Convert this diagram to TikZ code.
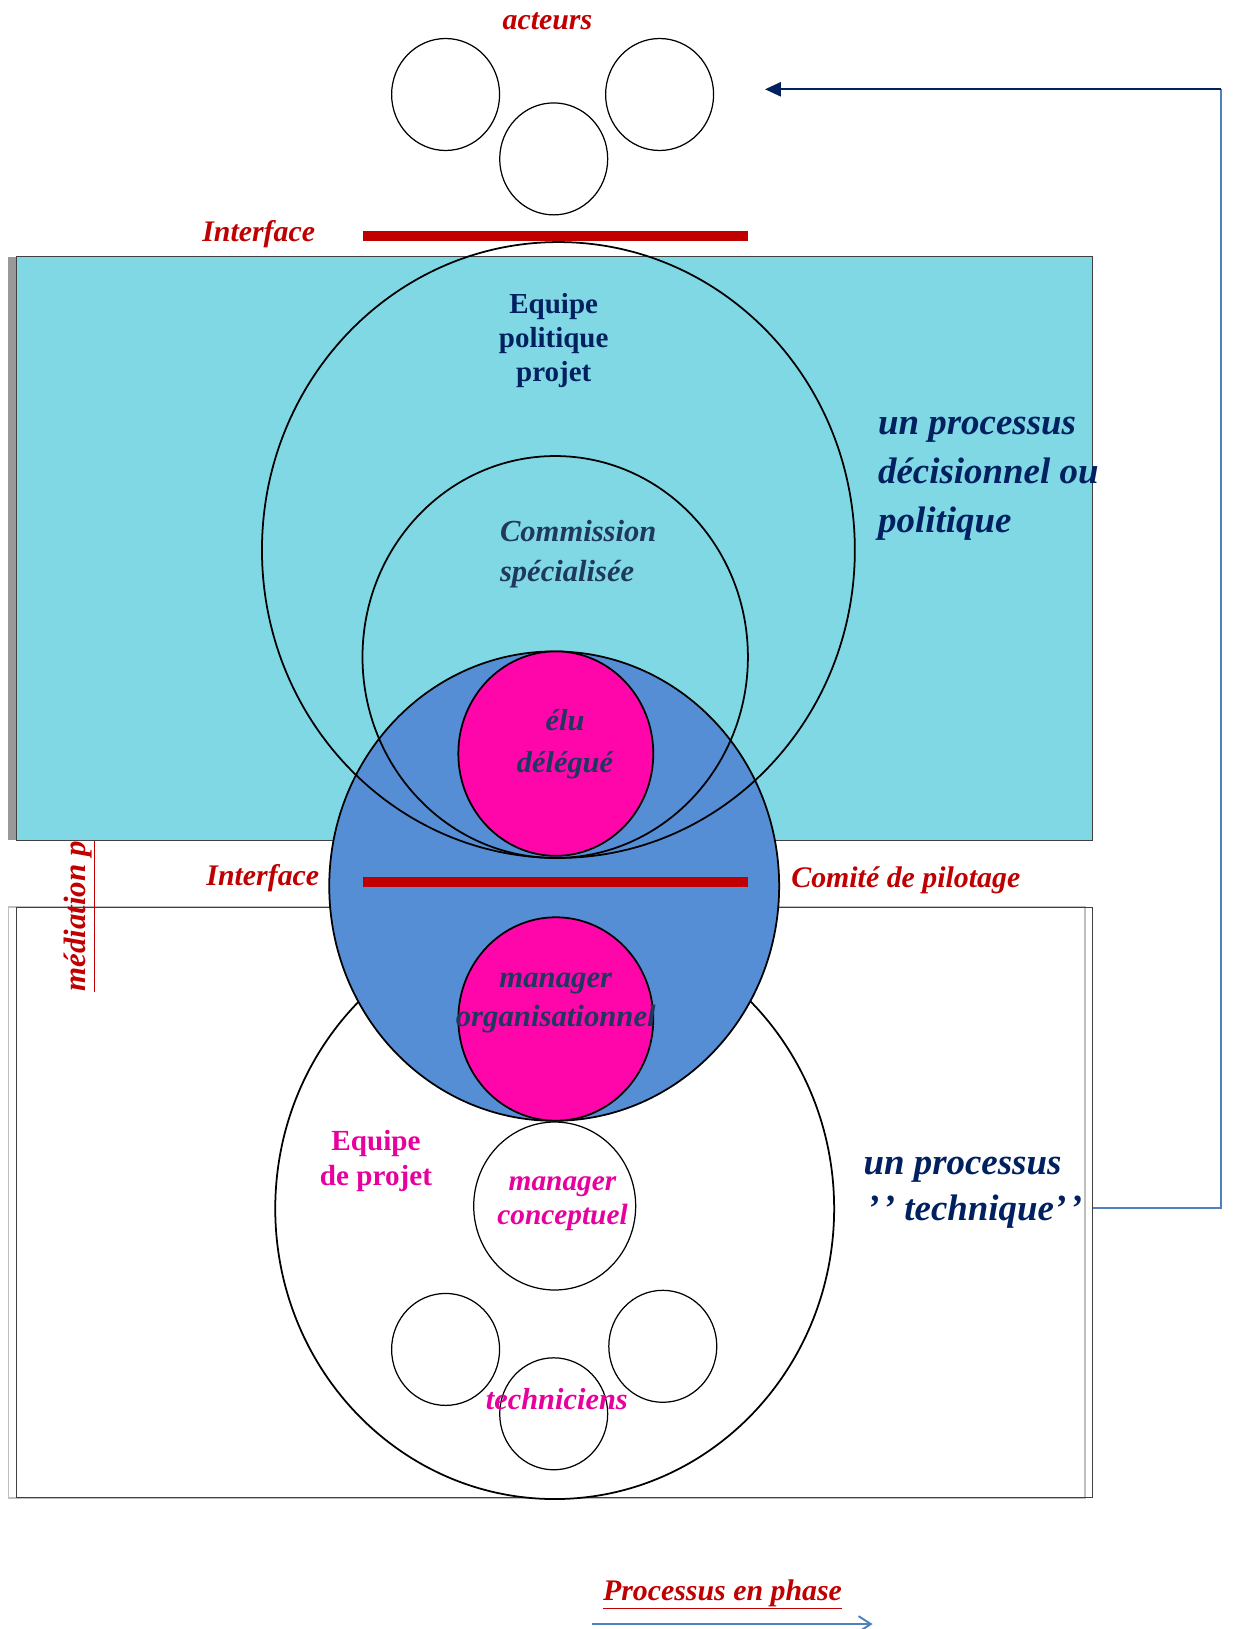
\documentclass[tikz,border=0pt]{standalone}
\usepackage{fontspec}
\setmainfont{Liberation Serif}
\usetikzlibrary{arrows.meta, shapes.geometric}

\definecolor{cyanzone}{RGB}{128,216,228}
\definecolor{bluedisc}{RGB}{85,142,213}
\definecolor{pinkdisc}{RGB}{255,6,170}
\definecolor{darkred}{RGB}{192,0,0}
\definecolor{navytext}{RGB}{0,32,96}
\definecolor{slatetext}{RGB}{31,56,94}
\definecolor{pinktext}{RGB}{232,0,158}
\definecolor{linkblue}{RGB}{79,129,189}

\tikzset{
  ring/.style={ellipse, draw=black, line width=1pt, inner sep=0pt},
  smallring/.style={ellipse, draw=black, line width=0.7pt, inner sep=0pt, minimum width=2.16cm, minimum height=2.24cm},
  zone/.style={draw=black!75, line width=0.6pt, inner sep=0pt, minimum width=21.52cm},
  redbar/.style={draw=darkred, line width=5.9pt},
  redlabel/.style={text=darkred, inner sep=0pt, font=\fontsize{17}{20}\selectfont\bfseries\itshape},
  biglabel/.style={text=navytext, inner sep=0pt, align=left, anchor=west}
}

\begin{document}
\begin{tikzpicture}[x=0.02cm, y=-0.02cm]
\useasboundingbox (0,0) rectangle (1232,1629);
%\draw[help lines] (0,0) grid[step=100] (1232,1629);
\begin{scope}
    % lower zone
    \draw[black!25, line width=0.8pt] (8.3,906.9) rectangle (1085,1498);
    \node[zone, minimum height=11.82cm] (techzone) at (554.7,1202.5) {};
    \node[redlabel, rotate=90, anchor=base west, font=\fontsize{17.6}{20}\selectfont\bfseries\itshape] (mediation) at (85,992) {\underline{médiation p}};

    % upper zone
    \fill[black!40] (8.3,256.6) rectangle (16.6,840.4);
    \node[zone, fill=cyanzone, minimum height=11.68cm] (polzone) at (554.7,548.5) {};

    % actors
    \node[smallring] (actL) at (445.6,94.5) {};
    \node[smallring] (actR) at (659.6,94.5) {};
    \node[smallring] (actB) at (553.7,158.9) {};
    \node[redlabel] (acteurs) at (547.4,21) {acteurs};

    % circles
    \node[ring, fill=white, minimum width=11.18cm, minimum height=11.62cm] (projet) at (554.7,1208.6) {};
    \node[ring, fill=bluedisc, minimum width=9.0cm, minimum height=9.39cm] (copil) at (554.2,886.1) {};
    \node[ring, fill=pinkdisc, minimum width=3.9cm, minimum height=4.09cm] (elu) at (555.8,753.6) {};
    \node[ring, fill=pinkdisc, minimum width=3.9cm, minimum height=4.07cm] (manorg) at (555.8,1019) {};
    \node[ring, minimum width=11.86cm, minimum height=12.32cm] (politique) at (558.4,550) {};
    \node[ring, minimum width=7.71cm, minimum height=8.04cm] (commission) at (555.2,657) {};
    \node[ring, fill=white, line width=0.7pt, minimum width=3.24cm, minimum height=3.36cm] (mancon) at (554.7,1206) {};
    \node[smallring] (techL) at (445.6,1349.4) {};
    \node[smallring] (techR) at (662.8,1346.3) {};
    \node[smallring] (techB) at (553.7,1413.8) {};

    % interfaces
    \draw[redbar] (362.5,235.8) -- (748,235.8);
    \draw[redbar] (362.5,882) -- (748,882);
    \node[redlabel] (itop) at (258.7,234.5) {Interface};
    \node[redlabel] (imid) at (262.8,878) {Interface};
    \node[redlabel] (comite) at (905.8,880) {Comité de pilotage};

    % labels
    \node[text=navytext, align=center, font=\fontsize{16.5}{19.5}\selectfont\bfseries] (eqpol) at (553.7,340.6) {Equipe\\politique\\projet};
    \node[text=slatetext, align=left, anchor=west, inner sep=0pt, font=\fontsize{17.4}{23}\selectfont\bfseries\itshape] (comlbl) at (499.7,554) {Commission\\spécialisée};
    \node[text=slatetext, align=center, font=\fontsize{17.3}{24}\selectfont\bfseries\itshape] (elulbl) at (565,744) {élu\\délégué};
    \node[text=slatetext, align=center, font=\fontsize{17.5}{22.4}\selectfont\bfseries\itshape] (manorglbl) at (555.8,1003) {manager\\organisationnel};
    \node[text=pinktext, align=center, font=\fontsize{16.6}{19.5}\selectfont\bfseries] (eqproj) at (376,1161) {Equipe\\de projet};
    \node[text=pinktext, align=center, font=\fontsize{16.7}{19.2}\selectfont\bfseries\itshape] (manconlbl) at (562.5,1204) {manager\\conceptuel};
    \node[text=pinktext, font=\fontsize{17.3}{20}\selectfont\bfseries\itshape] (techlbl) at (556.8,1399.3) {techniciens};
    \node[biglabel, font=\fontsize{21}{28}\selectfont\bfseries\itshape] (procpol) at (877.8,479) {un processus\\décisionnel ou\\politique};
    \node[biglabel, font=\fontsize{21}{26.5}\selectfont\bfseries\itshape] (proctech) at (863.2,1192.5) {un processus\\\hspace{2pt}’\kern2pt’~technique’\kern2pt’};
    \node[redlabel, anchor=base] (phase) at (722.5,1600) {\underline{Processus en phase}};

    % links
    \coordinate (turn) at (1221,1208);
    \coordinate (corner) at (1221,89.3);
    \coordinate (tip) at (765,89.3);
    \coordinate (phasestart) at (592,1624);
    \coordinate (phaseend) at (872.6,1624);
    \draw[linkblue, line width=0.9pt] (techzone.east |- turn) -- (turn) -- (corner);
    \draw[navytext, line width=1.2pt, -{Triangle[length=9pt,width=8pt]}] (corner) -- (tip);
    \draw[linkblue, line width=1.1pt, -{Straight Barb[length=7pt,width=9pt]}] (phasestart) -- (phaseend);
\end{scope}
\end{tikzpicture}
\end{document}
